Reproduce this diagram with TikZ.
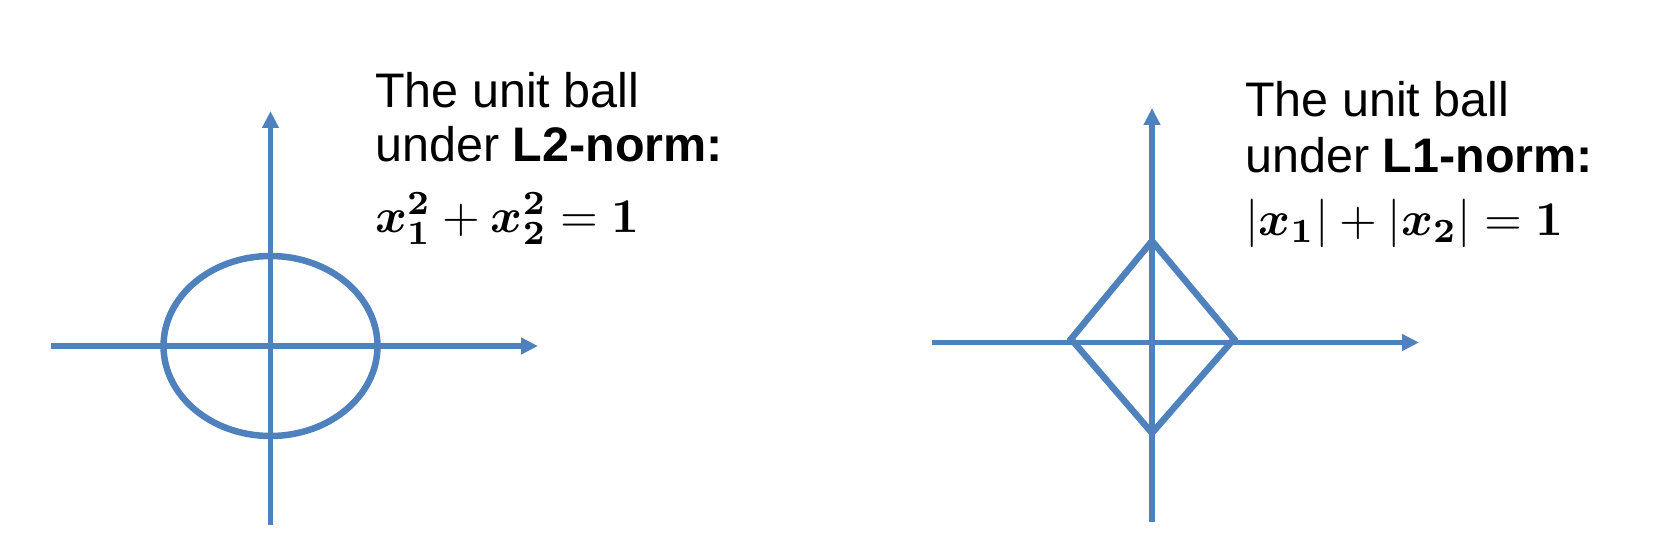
\documentclass[tikz,border=0pt]{standalone}
\usepackage{amsmath}
\usepackage[no-math]{fontspec}
\setmainfont{Liberation Sans}
\usepackage{tikz}
\usetikzlibrary{arrows.meta}
\definecolor{normblue}{HTML}{4F81BD}
\tikzstyle{axis} = [line width=5.5pt, draw=normblue]
\tikzstyle{arrow} = [axis, -{Triangle[length=17pt, width=16pt]}]
\tikzstyle{ball} = [line width=6.5pt, draw=normblue, line join=miter]
\tikzstyle{caption} = [anchor=base west, inner sep=0pt, font=\fontsize{48.5}{56}\selectfont]
\newcommand{\bigmath}[1]{\scalebox{4.85}{\normalsize$#1$}}

\begin{document}
\begin{tikzpicture}[x=1pt, y=-1pt]
    \useasboundingbox (0,0) rectangle (1656,548);
    % L2 ball
    \coordinate (l2o) at (270.5,346);
    \coordinate (l2west) at (51,346);
    \coordinate (l2east) at (538,346);
    \coordinate (l2south) at (270.5,525);
    \coordinate (l2north) at (270.5,111);
    \draw [arrow] (l2west) -- (l2east);
    \draw [arrow] (l2south) -- (l2north);
    \draw [ball] (l2o) ellipse [x radius=107pt, y radius=90pt];
    \node (l2title) [caption] at (375,108) {The unit ball};
    \node (l2norm) [caption] at (375,162) {under \textbf{L2-norm:}};
    \node (l2eq) [caption] at (375,232) {\bigmath{\boldsymbol{x}_{\mathbf{1}}^{\mathbf{2}}+\boldsymbol{x}_{\mathbf{2}}^{\mathbf{2}}=\mathbf{1}}};
    % L1 ball
    \coordinate (l1o) at (1152,342.5);
    \coordinate (l1west) at (932,342.5);
    \coordinate (l1east) at (1419,342.5);
    \coordinate (l1south) at (1152,522);
    \coordinate (l1north) at (1152,108);
    \coordinate (l1top) at (1152,241);
    \coordinate (l1right) at (1234,339);
    \coordinate (l1bottom) at (1152,433);
    \coordinate (l1left) at (1071,339);
    \draw [arrow] (l1west) -- (l1east);
    \draw [arrow] (l1south) -- (l1north);
    \draw [ball] (l1top) -- (l1right) -- (l1bottom) -- (l1left) -- cycle;
    \node (l1title) [caption] at (1245,117) {The unit ball};
    \node (l1norm) [caption] at (1245,173) {under \textbf{L1-norm:}};
    \node (l1eq) [caption] at (1245,235) {\bigmath{|\boldsymbol{x}_{\mathbf{1}}|+|\boldsymbol{x}_{\mathbf{2}}|=\mathbf{1}}};
\end{tikzpicture}
\end{document}
